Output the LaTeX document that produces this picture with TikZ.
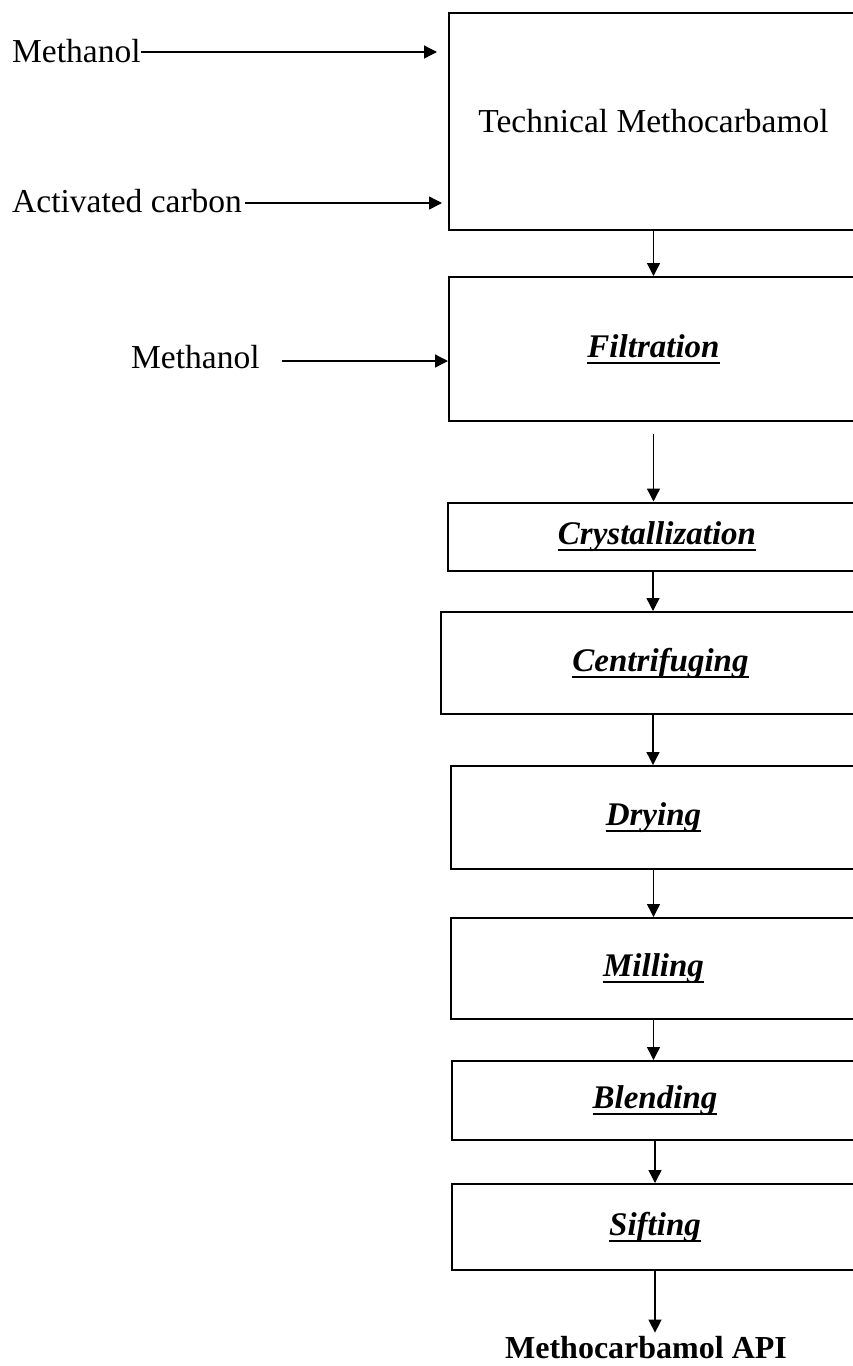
\documentclass[tikz,border=0pt]{standalone}
\usepackage{fontspec}
\setmainfont{Liberation Serif}
\usetikzlibrary{arrows.meta,calc}
\tikzset{
  procbox/.style={draw=black, line width=2pt, rectangle, inner sep=0pt, align=center,
    font=\fontsize{33}{40}\selectfont\bfseries\itshape},
  techbox/.style={draw=black, line width=2pt, rectangle, inner sep=0pt, align=center,
    font=\fontsize{33.5}{40}\selectfont},
  inlabel/.style={inner sep=0pt, anchor=west, font=\fontsize{33.5}{40}\selectfont},
  arr/.style={line width=1.4pt, -{Triangle[length=13pt,width=13pt]}},
}
\newcommand{\ulproc}[1]{\setbox0\hbox{#1}\leavevmode\rlap{\raisebox{-6.5pt}{\rule{\wd0}{1.8pt}}}\box0}
\begin{document}
\begin{tikzpicture}[x=1pt,y=-1pt]
\clip (0,0) rectangle (853,1366);
\fill[white] (0,0) rectangle (853,1366);

% process boxes
\node[techbox, minimum width=409pt, minimum height=217pt] (tech) at (653.5,121.5) {Technical Methocarbamol};
\node[procbox, minimum width=409pt, minimum height=144pt] (filt) at (653.5,349) {\ulproc{Filtration}};
\node[procbox, minimum width=418pt, minimum height=68.5pt] (cryst) at (657,536.75) {\ulproc{Crystallization}};
\node[procbox, minimum width=439pt, minimum height=102pt] (centri) at (660.5,663) {\ulproc{Centrifuging}};
\node[procbox, minimum width=405pt, minimum height=103pt] (dry) at (653.5,817.5) {\ulproc{Drying}};
\node[procbox, minimum width=405pt, minimum height=101pt] (mill) at (653.5,968.5) {\ulproc{Milling}};
\node[procbox, minimum width=406pt, minimum height=79pt] (blend) at (655,1100.5) {\ulproc{Blending}};
\node[procbox, minimum width=406pt, minimum height=86pt] (sift) at (655,1227) {\ulproc{Sifting}};

% input labels
\node[inlabel] (m1) at (12,51) {Methanol};
\node[inlabel] (ac) at (12,201) {Activated carbon};
\node[inlabel] (m2) at (131,357) {Methanol};

% output label
\node[inner sep=0pt, anchor=base, font=\fontsize{32}{40}\selectfont\bfseries] (api) at (646,1358) {Methocarbamol API};

% input arrows
\draw[arr, shorten >=11pt] ([yshift=-1pt]m1.east) -- ([yshift=-1pt]m1.east -| tech.west);
\draw[arr, shorten <=3pt, shorten >=6pt] ([yshift=-2pt]ac.east) -- ([yshift=-2pt]ac.east -| tech.west);
\draw[arr, shorten <=22pt] ([yshift=-4pt]m2.east) -- ([yshift=-4pt]m2.east -| filt.west);

% flow arrows
\draw[arr] (tech.south) -- (tech.south |- filt.north);
\draw[arr] ([yshift=-12pt]filt.south) -- (filt.south |- cryst.north);
\draw[arr] ([xshift=-4pt]cryst.south) -- ([xshift=-4pt]cryst.south |- centri.north);
\draw[arr] ([xshift=-7.5pt]centri.south) -- ([xshift=-7.5pt]centri.south |- dry.north);
\draw[arr] (dry.south) -- (dry.south |- mill.north);
\draw[arr] (mill.south) -- (mill.south |- blend.north);
\draw[arr] (blend.south) -- (blend.south |- sift.north);
\draw[arr, shorten >=3pt] (sift.south) -- (sift.south |- api.north);
\end{tikzpicture}
\end{document}
